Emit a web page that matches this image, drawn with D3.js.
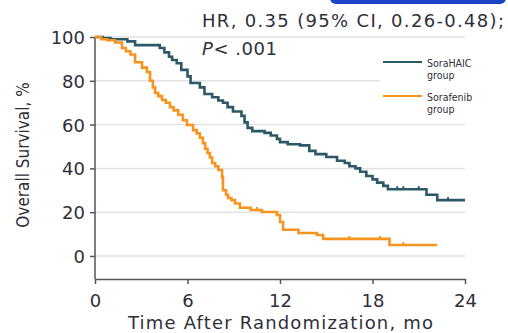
<!DOCTYPE html>
<html>
<head>
<meta charset="utf-8">
<script src="https://cdn.jsdelivr.net/npm/d3@7"></script>
<style>
  body { margin: 0; background: #fff; }
  svg { display: block; }
</style>
</head>
<body>
<div id="chart"></div>
<script>
// Kaplan-Meier steps (months, % surviving)
var haicTimes = [0, 0.5, 1.0, 2.1, 2.6, 4.2, 4.5, 4.8, 5.0, 5.3, 5.6, 6.0, 6.2, 6.8, 7.1, 7.6, 8.0, 8.3, 8.6, 8.95, 9.5, 9.7, 9.9, 10.2, 11.0, 11.4, 11.8, 12.0, 12.5, 13.3, 13.9, 14.3, 15.0, 15.7, 16.2, 16.5, 16.9, 17.2, 17.6, 18.0, 18.3, 18.7, 19.0, 21.5, 22.2, 24]
var haicSurv  = [100, 99.5, 99, 98, 96.3, 95, 93, 91, 89.5, 88, 85, 82, 79, 77, 74, 72.5, 71, 70, 68, 66, 64, 61, 58.5, 57, 56.2, 55, 53.5, 52, 51, 50.5, 48, 46.5, 45.2, 43.5, 42.5, 41, 40, 38.5, 36.5, 35, 33.5, 32, 30.5, 28, 25.5, 25.5]
var haicCensor = [16.5, 19.6, 20.0, 21.0, 22.9]

var soraTimes = [0, 0.4, 0.8, 1.3, 1.75, 2.0, 2.3, 2.6, 3.05, 3.37, 3.57, 3.75, 3.9, 4.1, 4.35, 4.6, 4.86, 5.1, 5.4, 5.7, 5.97, 6.36, 6.6, 6.8, 7.0, 7.15, 7.3, 7.45, 7.6, 7.8, 8.0, 8.24, 8.3, 8.5, 8.63, 8.85, 9.08, 9.4, 10.1, 10.83, 11.8, 12.0, 12.2, 13.2, 14.4, 14.8, 19.1, 22.2]
var soraSurv  = [100, 99, 98.5, 97.5, 95, 93.5, 92, 88.5, 86, 84, 80, 77, 74.5, 73, 71.2, 70, 68, 66.5, 64.5, 62, 59.8, 57.5, 56, 54, 51.5, 49, 47, 45, 42.5, 41, 39.3, 36, 30, 28, 26.5, 25.5, 24, 22, 21, 20.1, 18.7, 15.5, 12, 10.5, 9.6, 7.8, 5, 5]
var soraCensor = [10.5, 16.5, 18.5, 20.0]

var xTicks = [0, 6, 12, 18, 24]
var yTicks = [0, 20, 40, 60, 80, 100]
var legendNames = [["SoraHAIC", "group"], ["Sorafenib", "group"]]
var statLines = ["HR, 0.35 (95% CI, 0.26-0.48);", ".001"]

var W = 508, H = 333
var colors = ["#2d5866", "#f7941d"]
var textCol = "#2f2f3a"
var mainFont = "'DejaVu Sans', sans-serif"
var narrowFont = "'DejaVu Sans Condensed', 'DejaVu Sans', sans-serif"

var x = d3.scaleLinear().domain([0, 24]).range([95, 465])
var y = d3.scaleLinear().domain([0, 100]).range([256, 37])

var svg = d3.select("#chart").append("svg")
    .attr("width", W)
    .attr("height", H)

// blue strip cut off at the top of the screenshot
svg.append("rect")
    .attr("x", 330).attr("y", -10)
    .attr("width", 176).attr("height", 14)
    .attr("rx", 6)
    .attr("fill", "#1b41c6")

// gridlines
svg.append("g").selectAll("line")
    .data(yTicks)
    .enter().append("line")
      .attr("x1", x(0)).attr("x2", x(24))
      .attr("y1", function(d) { return y(d) })
      .attr("y2", function(d) { return y(d) })
      .attr("stroke", "#e2e2e2")
      .attr("stroke-width", 1.5)

// axes
var xAxis = svg.append("g")
    .attr("transform", "translate(0,279)")
    .call(d3.axisBottom(x).tickValues(xTicks).tickSize(5).tickPadding(6).tickSizeOuter(0))
var yAxis = svg.append("g")
    .attr("transform", "translate(95,0)")
    .call(d3.axisLeft(y).tickValues(yTicks).tickSize(5).tickPadding(5).tickSizeOuter(0))

// extend y axis line down to the x axis
yAxis.select(".domain").attr("d", "M0," + y(100) + "V279")

;[xAxis, yAxis].forEach(function(a) {
  a.selectAll(".domain, line").attr("stroke", "#555").attr("stroke-width", 1.5)
  a.selectAll("text")
    .attr("fill", textCol)
    .style("font-family", mainFont)
    .style("font-size", "18px")
})
xAxis.selectAll("text").attr("dy", "0.95em")
yAxis.selectAll("text").attr("dy", "0.36em")

// curves
var line = d3.line()
    .x(function(d) { return x(d[0]) })
    .y(function(d) { return y(d[1]) })
    .curve(d3.curveStepAfter)

var series = [
  { t: haicTimes, s: haicSurv, c: haicCensor, col: colors[0] },
  { t: soraTimes, s: soraSurv, c: soraCensor, col: colors[1] }
]

series.forEach(function(sr) {
  var pts = sr.t.map(function(t, i) { return [t, sr.s[i]] })
  svg.append("path")
    .attr("d", line(pts))
    .attr("fill", "none")
    .attr("stroke", sr.col)
    .attr("stroke-width", 2.6)

  // censor ticks
  svg.append("g").selectAll("line")
    .data(sr.c)
    .enter().append("line")
      .attr("x1", function(d) { return x(d) })
      .attr("x2", function(d) { return x(d) })
      .attr("y1", function(d) {
        var i = d3.bisectRight(sr.t, d) - 1
        return y(sr.s[i])
      })
      .attr("y2", function(d) {
        var i = d3.bisectRight(sr.t, d) - 1
        return y(sr.s[i]) - 3
      })
      .attr("stroke", sr.col)
      .attr("stroke-width", 2)
})

// legend with white box
var lg = svg.append("g")
lg.append("rect")
    .attr("x", 380).attr("y", 52)
    .attr("width", 90).attr("height", 66)
    .attr("fill", "#fff")
legendNames.forEach(function(nm, i) {
  var ly = 62 + i * 34
  lg.append("line")
    .attr("x1", 383).attr("x2", 422)
    .attr("y1", ly).attr("y2", ly)
    .attr("stroke", colors[i])
    .attr("stroke-width", 2)
  nm.forEach(function(s, j) {
    lg.append("text")
      .attr("x", 427).attr("y", ly + 5 + j * 11.5)
      .attr("fill", textCol)
      .style("font-family", narrowFont)
      .style("font-size", "10.5px")
      .text(s)
  })
})

// statistics annotation
svg.append("text")
    .attr("x", 202).attr("y", 27)
    .attr("fill", textCol)
    .attr("textLength", 302)
    .attr("lengthAdjust", "spacing")
    .style("font-family", mainFont)
    .style("font-size", "18px")
    .text(statLines[0])
var pt = svg.append("text")
    .attr("x", 202).attr("y", 55)
    .attr("fill", textCol)
    .attr("textLength", 75)
    .attr("lengthAdjust", "spacing")
    .style("font-family", mainFont)
    .style("font-size", "18px")
pt.append("tspan").style("font-style", "italic").text("P")
pt.append("tspan").text("< " + statLines[1])

// axis titles
svg.append("text")
    .attr("x", 128).attr("y", 329)
    .attr("fill", textCol)
    .attr("textLength", 305)
    .attr("lengthAdjust", "spacing")
    .style("font-family", mainFont)
    .style("font-size", "18px")
    .text("Time After Randomization, mo")

svg.append("text")
    .attr("transform", "translate(29," + 155 + ") rotate(-90)")
    .attr("text-anchor", "middle")
    .attr("fill", textCol)
    .style("font-family", narrowFont)
    .style("font-size", "17px")
    .text("Overall Survival, %")
</script>
</body>
</html>
